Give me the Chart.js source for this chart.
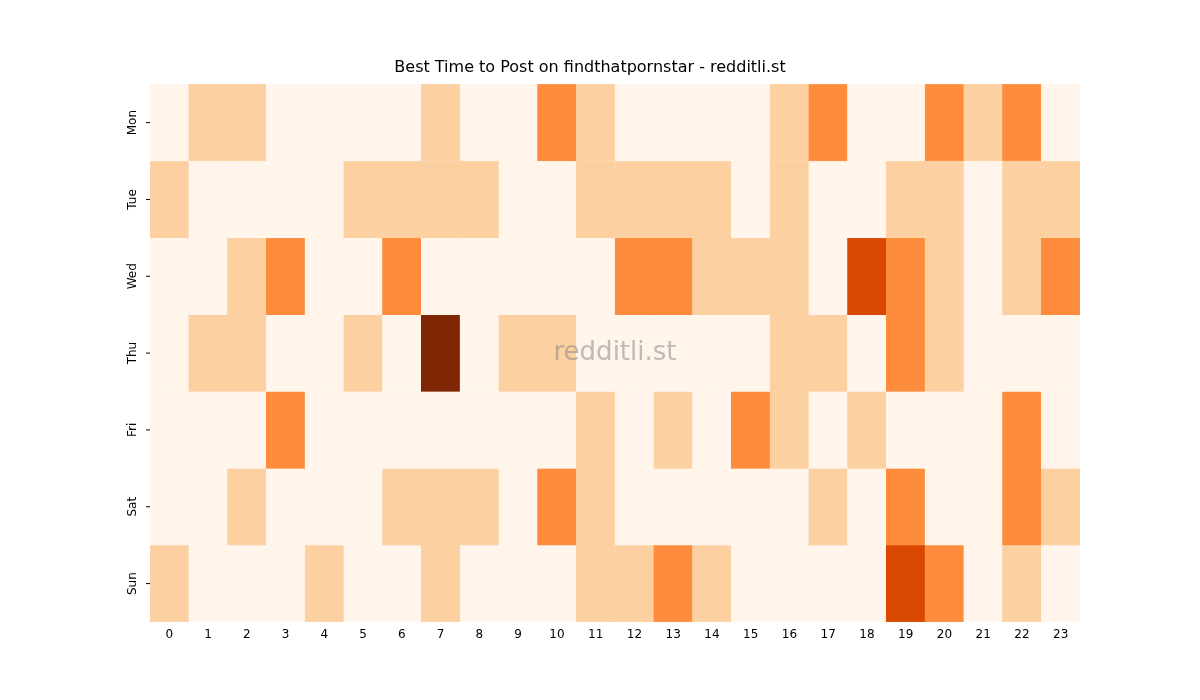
<!DOCTYPE html>
<html><head><meta charset="utf-8">
<script src="https://cdn.jsdelivr.net/npm/chart.js@4"></script>
<style>body{margin:0;background:#fff}</style>
</head><body>
<canvas id="c" width="1200" height="700"></canvas>
<script>
const hours = ["0","1","2","3","4","5","6","7","8","9","10","11","12","13","14","15","16","17","18","19","20","21","22","23"];
const days = ["Mon","Tue","Wed","Thu","Fri","Sat","Sun"];
const mon = [0,1,1,0,0,0,0,1,0,0,2,1,0,0,0,0,1,2,0,0,2,1,2,0];
const tue = [1,0,0,0,0,1,1,1,1,0,0,1,1,1,1,0,1,0,0,1,1,0,1,1];
const wed = [0,0,1,2,0,0,2,0,0,0,0,0,2,2,1,1,1,0,3,2,1,0,1,2];
const thu = [0,1,1,0,0,1,0,4,0,1,1,0,0,0,0,0,1,1,0,2,1,0,0,0];
const fri = [0,0,0,2,0,0,0,0,0,0,0,1,0,1,0,2,1,0,1,0,0,0,2,0];
const sat = [0,0,1,0,0,0,1,1,1,0,2,1,0,0,0,0,0,1,0,2,0,0,2,1];
const sun = [1,0,0,0,1,0,0,1,0,0,0,1,1,2,1,0,0,0,0,3,2,0,1,0];
const rows = [mon,tue,wed,thu,fri,sat,sun];
const palette = ["#fff5eb","#fdd0a2","#fd8d3c","#d94801","#7f2704"];

const datasets = rows.map((r,i)=>({
  label: days[i],
  data: r.map(()=>[i,i+1]),
  backgroundColor: r.map(v=>palette[v]),
  borderColor: r.map(v=>palette[v]),
  borderWidth: 0.5,
  borderSkipped: false,
  barPercentage: 1, categoryPercentage: 1, grouped: false
}));

const overlay = {
  id:'overlay',
  afterDraw(chart){
    const ctx = chart.ctx, y = chart.scales.y, a = chart.chartArea;
    ctx.save();
    ctx.fillStyle = '#000'; ctx.font = '12px "DejaVu Sans"';
    ctx.textAlign='center'; ctx.textBaseline='middle';
    days.forEach((d,i)=>{
      const py = y.getPixelForValue(i+0.5);
      ctx.strokeStyle='#000'; ctx.lineWidth=1;
      ctx.beginPath(); ctx.moveTo(a.left-4,py); ctx.lineTo(a.left,py); ctx.stroke();
      ctx.save(); ctx.translate(a.left-17,py); ctx.rotate(-Math.PI/2); ctx.fillText(d,0,0); ctx.restore();
    });
    ctx.fillStyle='rgba(128,128,128,0.5)'; ctx.font='26px "DejaVu Sans"';
    ctx.fillText('redditli.st',(a.left+a.right)/2,(a.top+a.bottom)/2);
    ctx.restore();
  }
};

new Chart(document.getElementById('c'),{
  type:'bar',
  data:{labels:hours,datasets},
  options:{
    responsive:false, animation:false,
    layout:{padding:{left:100,right:120,bottom:48,top:0}},
    plugins:{legend:{display:false},tooltip:{enabled:false},
      title:{display:true,text:'Best Time to Post on findthatpornstar - redditli.st',
        color:'#000',font:{family:'DejaVu Sans',size:16,weight:'normal'},padding:{top:58,bottom:7}}},
    scales:{
      x:{grid:{display:false,drawTicks:true,tickLength:4,tickColor:'#000'},border:{display:false},
        ticks:{color:'#000',font:{family:'DejaVu Sans',size:12},maxRotation:0,autoSkip:false,padding:2},
        afterFit(s){s.height=30;}},
      y:{min:0,max:7,reverse:true,grid:{display:false},border:{display:false},
        ticks:{display:false},afterFit(s){s.width=50;}}
    }
  },
  plugins:[overlay]
});
</script>
</body></html>
